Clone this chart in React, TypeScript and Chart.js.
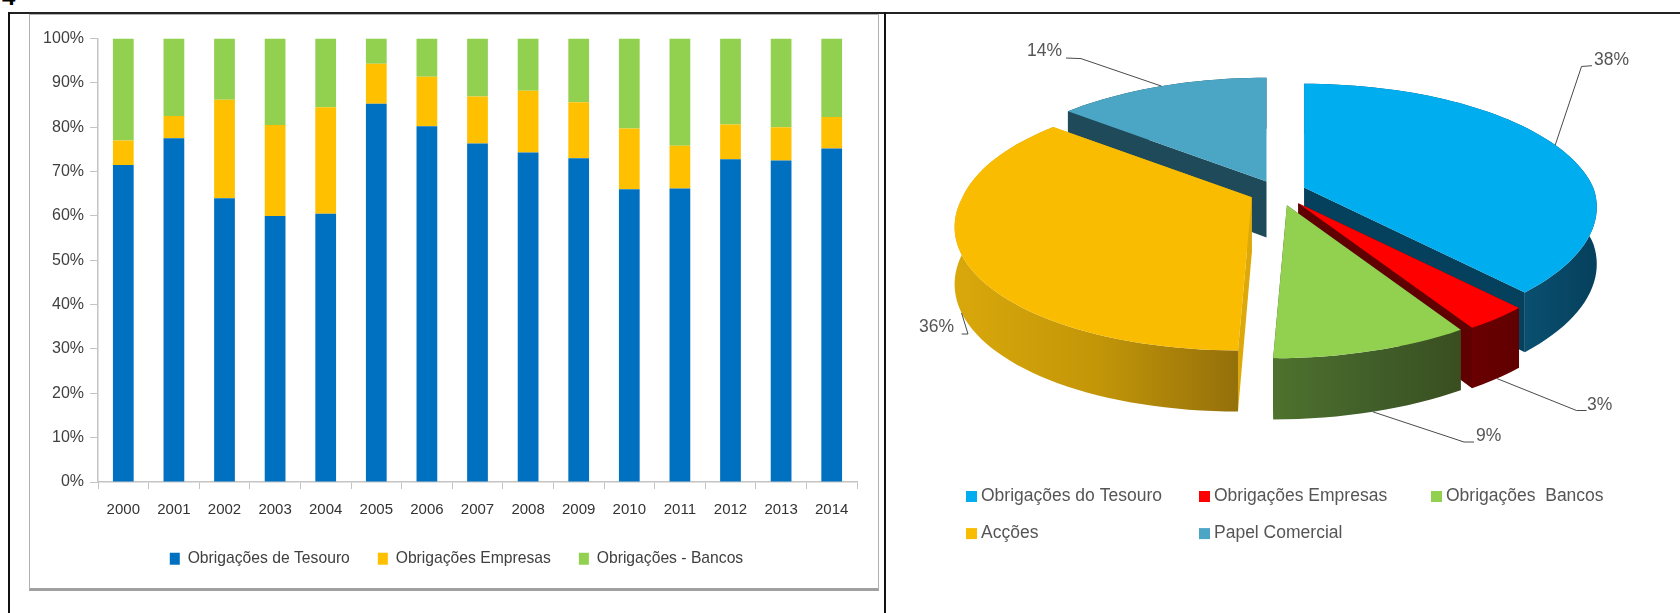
import React, { useEffect, useRef } from "react";
import { Chart, registerables, PieController, ArcElement } from "chart.js";

// ---------- data ----------
const years = ["2000","2001","2002","2003","2004","2005","2006","2007","2008","2009","2010","2011","2012","2013","2014"];
const tesouro = [71.5,77.5,64,60,60.5,85.3,80.2,76.3,74.3,73,66,66.2,72.8,72.5,75.2];
const empresas = [5.5,5,22.2,20.5,24,9,11.2,10.6,13.9,12.6,13.7,9.6,7.8,7.5,7.1];
const bancos = [23,17.5,13.8,19.5,15.5,5.7,8.6,13.1,11.8,14.4,20.3,24.2,19.4,20,17.7];
const barSeriesNames = ["Obrigações de Tesouro", "Obrigações Empresas", "Obrigações - Bancos"];
const barColors = ["#0070C0", "#FFC000", "#92D050"];

const pieLabels = ["Obrigações do Tesouro", "Obrigações Empresas", "Obrigações  Bancos", "Acções", "Papel Comercial"];
const pieValues = [38, 3, 9, 36, 14];
const pieColors = ["#00AEEF", "#FF0000", "#92D050", "#F9BC00", "#4BA6C5"];

// ---------- 3D style ----------
const explodeBy = [28, 33, 32, 29, 27];
const paintOrder = [4, 0, 3, 1, 2];
const wallStops = [
  ["#0A4F70", "#05405C"],
  ["#6A0000", "#600000"],
  ["#4F722D", "#41602A", "#3A4E20"],
  ["#D9A80B", "#C39608", "#94700B"],
  ["#1F4A5A", "#1F4A5A"],
];
const faceColors = ["#05405C", "#600000", "#3A4E20", "#DDA90A", "#1F4A5A"];
const KX = 1.625, KY = 0.695, PERSP = 0.192, SHEAR = -0.09, DEPTH = 0.315, DEPTH_PERSP = 0.09, EXPLODE_Y = 0.43;

function project(cx: number, cy: number, R: number, t: number, r = 1) {
  const X = Math.sin(t) * r, Y = Math.cos(t) * r;
  const w = 1 + PERSP * Y;
  const yd = (-Y * R * KY) / w;
  const x = (X * R * KX) / w + SHEAR * Math.max(0, yd);
  return [cx + x, cy + yd, R * DEPTH * (1 - DEPTH_PERSP * Y)];
}

class Arc3D extends (ArcElement as any) {
  static id = "arc3d";
  static defaults = (ArcElement as any).defaults;
  static defaultRoutes = (ArcElement as any).defaultRoutes;
  apex(i: number) {
    const a = (this as any);
    const mid = (a.startAngle + a.endAngle) / 2 + Math.PI / 2;
    const e = explodeBy[i];
    return [a.x + e * Math.sin(mid), a.y - e * Math.cos(mid) * EXPLODE_Y];
  }
  anchor(i: number) {
    const a = (this as any);
    const mid = (a.startAngle + a.endAngle) / 2 + Math.PI / 2;
    const [cx, cy] = this.apex(i);
    const p = project(cx, cy, a.outerRadius, mid);
    return [p[0], Math.cos(mid) > 0 ? p[1] : p[1] + p[2]];
  }
  draw() {}
  draw3d(ctx: CanvasRenderingContext2D, i: number) {
    const a = (this as any);
    const R = a.outerRadius;
    const t0 = a.startAngle + Math.PI / 2, t1 = a.endAngle + Math.PI / 2;
    const [cx, cy] = this.apex(i);
    const n = Math.max(4, Math.round(((t1 - t0) * 180) / Math.PI / 2));
    const rim: number[][] = [];
    for (let k = 0; k <= n; k++) rim.push(project(cx, cy, R, t0 + ((t1 - t0) * k) / n));
    const d0 = R * DEPTH;
    const poly = (pts: number[][], fill: string | CanvasGradient) => {
      ctx.beginPath();
      pts.forEach((p, k) => (k ? ctx.lineTo(p[0], p[1]) : ctx.moveTo(p[0], p[1])));
      ctx.closePath();
      ctx.fillStyle = fill;
      ctx.fill();
    };
    ctx.save();
    // radial faces
    for (const p of [rim[0], rim[n]]) {
      poly([[cx, cy], [p[0], p[1]], [p[0], p[1] + p[2]], [cx, cy + d0]], faceColors[i]);
    }
    // outer wall
    const front = rim.filter((p) => p[1] >= cy - 30);
    const xs = (front.length ? front : rim).map((p) => p[0]);
    const g = ctx.createLinearGradient(Math.min(...xs), 0, Math.max(...xs), 0);
    wallStops[i].forEach((c, k, arr) => g.addColorStop(k / (arr.length - 1), c));
    poly([...rim, ...rim.slice().reverse().map((p) => [p[0], p[1] + p[2]])], g);
    // top
    poly([[cx, cy], ...rim], a.options.backgroundColor);
    ctx.restore();
  }
}

class Pie3DController extends (PieController as any) {
  static id = "pie3d";
  static defaults = { ...(PieController as any).defaults, dataElementType: "arc3d" };
  draw() {
    const self = this as any;
    const meta = self._cachedMeta;
    for (const i of paintOrder) meta.data[i].draw3d(self.chart.ctx, i);
  }
}

Chart.register(...registerables, Arc3D as any, Pie3DController as any);

// ---------- pie annotation layout (page pixels) ----------
const PIE_LEFT = 886, PIE_TOP = 14;
const leaderElbow = [[1581.5, 66.5], [1576.5, 410.5], [1464, 442], [968, 334], [1081, 58.6]];
const leaderEnd = [[1592, 65.7], [1586.6, 410.5], [1474, 442], [961.6, 334], [1066, 58]];
const labelPos = [[1594, 60, "left"], [1587, 405, "left"], [1476, 436, "left"], [954, 327, "right"], [1062, 51, "right"]];
const legendPos = [[966, 496.5], [1199, 496.5], [1431, 496.5], [966, 533.6], [1199, 533.6]];

const pieAnnotations = {
  id: "pieAnnotations",
  afterDatasetsDraw(chart: any) {
    const ctx: CanvasRenderingContext2D = chart.ctx;
    const meta = chart.getDatasetMeta(0);
    ctx.save();
    ctx.font = '17.5px "Liberation Sans"';
    ctx.textBaseline = "middle";
    meta.data.forEach((el: any, i: number) => {
      const a = el.anchor(i);
      ctx.beginPath();
      ctx.moveTo(a[0], a[1]);
      ctx.lineTo(leaderElbow[i][0] - PIE_LEFT, leaderElbow[i][1] - PIE_TOP);
      ctx.lineTo(leaderEnd[i][0] - PIE_LEFT, leaderEnd[i][1] - PIE_TOP);
      ctx.strokeStyle = "#4A4A4A";
      ctx.lineWidth = 1;
      ctx.stroke();
      ctx.fillStyle = "#555555";
      ctx.textAlign = labelPos[i][2] as CanvasTextAlign;
      ctx.fillText(`${pieValues[i]}%`, (labelPos[i][0] as number) - PIE_LEFT, (labelPos[i][1] as number) - PIE_TOP);
    });
    ctx.textAlign = "left";
    pieLabels.forEach((label, i) => {
      const [x, y] = legendPos[i];
      ctx.fillStyle = pieColors[i];
      ctx.fillRect(x - PIE_LEFT, y - 5.5 - PIE_TOP, 11, 11);
      ctx.fillStyle = "#555555";
      ctx.fillText(label, x + 15 - PIE_LEFT, y - PIE_TOP);
    });
    ctx.restore();
  },
};

const shiftLegend = {
  id: "shiftLegend",
  afterLayout(chart: any) {
    chart.legend.left += 13;
    chart.legend.right += 13;
  },
};

const abs = (l: number, t: number, w: number, h: number, extra: any = {}) => ({
  position: "absolute" as const, left: l, top: t, width: w, height: h, ...extra,
});

export default function App() {
  const barRef = useRef<HTMLCanvasElement>(null);
  const pieRef = useRef<HTMLCanvasElement>(null);

  useEffect(() => {
    const font = (size: number) => ({ family: '"Liberation Sans"', size });
    const bar = new Chart(barRef.current!, {
      type: "bar",
      data: {
        labels: years,
        datasets: [tesouro, empresas, bancos].map((data, i) => ({
          label: barSeriesNames[i],
          data,
          backgroundColor: barColors[i],
          barPercentage: 0.41,
          categoryPercentage: 1,
        })),
      },
      options: {
        animation: false,
        responsive: false,
        layout: { padding: { top: 24.5, bottom: 36.5, left: 0, right: 23 } },
        plugins: {
          tooltip: { enabled: false },
          legend: {
            position: "bottom",
            labels: { color: "#404040", font: font(15.7), boxWidth: 10, boxHeight: 12, padding: 28 },
          },
        },
        scales: {
          x: {
            stacked: true,
            border: { color: "#C4C4C4", width: 1.5 },
            grid: { display: true, drawOnChartArea: false, drawTicks: true, tickLength: 7, color: "#C4C4C4", offset: true },
            ticks: { color: "#333333", font: font(15), padding: 12, maxRotation: 0, autoSkip: false },
            afterFit: (s: any) => { s.height = 40.8; },
          },
          y: {
            stacked: true,
            min: 0,
            max: 100,
            border: { color: "#C4C4C4", width: 1.5 },
            grid: { display: true, drawOnChartArea: false, drawTicks: true, tickLength: 8, color: "#C4C4C4" },
            ticks: { stepSize: 10, color: "#404040", font: font(16), padding: 6, callback: (v: any) => `${v}%` },
            afterFit: (s: any) => { s.width = 68; },
          },
        },
      },
      plugins: [shiftLegend],
    } as any);

    const pie = new Chart(pieRef.current!, {
      type: "pie3d",
      data: {
        labels: pieLabels,
        datasets: [{ data: pieValues, backgroundColor: pieColors, borderWidth: 0 }],
      },
      options: {
        animation: false,
        responsive: false,
        layout: { padding: { top: 0, bottom: 243, left: 0, right: 10 } },
        plugins: { legend: { display: false }, tooltip: { enabled: false } },
      },
      plugins: [pieAnnotations],
    } as any);

    return () => { bar.destroy(); pie.destroy(); };
  }, []);

  return (
    <div style={{ position: "fixed", left: 0, top: 0, width: 1680, height: 613, background: "#fff", overflow: "hidden" }}>
      <span style={{ position: "absolute", left: 2, top: -15, font: 'bold 24px/24px "Liberation Sans"', color: "#000" }}>4</span>
      <div style={abs(8, 12, 1672, 2, { background: "#222" })} />
      <div style={abs(8, 12, 2, 601, { background: "#111" })} />
      <div style={abs(884, 12, 2, 601, { background: "#111" })} />
      <div style={abs(29, 14, 850, 577, { boxSizing: "border-box", border: "1.5px solid #B0B0B0", borderBottom: "3px solid #A0A0A0" })} />
      <canvas ref={barRef} width={850} height={599} style={abs(30, 14, 850, 599, { filter: "blur(0.6px)" })} />
      <canvas ref={pieRef} width={794} height={599} style={abs(PIE_LEFT, PIE_TOP, 794, 599, { filter: "blur(0.6px)" })} />
    </div>
  );
}
